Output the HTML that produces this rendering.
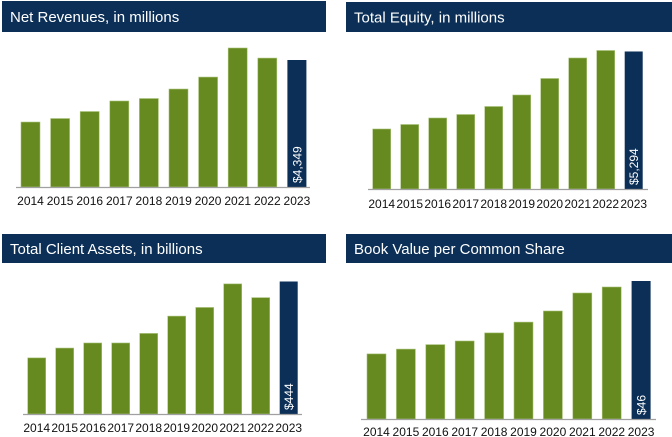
<!DOCTYPE html>
<html><head><meta charset="utf-8"><style>
body{margin:0;background:#fff;width:672px;height:437px;overflow:hidden;font-family:"Liberation Sans",sans-serif}
svg{display:block}
</style></head><body>
<svg id="c" width="672" height="437"></svg>
<script>
const years = ["2014","2015","2016","2017","2018","2019","2020","2021","2022","2023"];
const netRevenues = [2225,2345,2585,2945,3030,3355,3765,4760,4415,4349];
const totalEquity = [2310,2483,2734,2868,3176,3619,4254,5044,5332,5294];
const clientAssets = [188,221,238,238,270,328,357,436,390,444];
const bookValue = [21.7,23.3,24.8,26,28.7,32.3,36,42,44,46];
const titles = ["Net Revenues, in millions","Total Equity, in millions","Total Client Assets, in billions","Book Value per Common Share"];
const labels = ["$4,349","$5,294","$444","$46"];
const names = ["net-revenues","total-equity","client-assets","book-value"];
const series = [netRevenues,totalEquity,clientAssets,bookValue];
const layouts = [
 {hx:2,hy:1,hw:324,hh:31,base:187,x0:21,pitch:29.6,bw:19,top:48,ax0:16,ax1:310,ly:205},
 {hx:346,hy:2,hw:326,hh:30,base:189,x0:372.7,pitch:28,bw:18,top:50.5,ax0:368,ax1:648,ly:208},
 {hx:2,hy:234,hw:324,hh:29,base:414,x0:27.7,pitch:28,bw:18,top:281.5,ax0:23,ax1:302,ly:432},
 {hx:346,hy:234,hw:326,hh:29,base:419,x0:367,pitch:29.4,bw:19,top:281,ax0:361,ax1:656,ly:436}
];
const NS="http://www.w3.org/2000/svg";
const svg=document.getElementById('c');
function mk(t,a,p){const e=document.createElementNS(NS,t);for(const k in a)e.setAttribute(k,a[k]);(p||svg).appendChild(e);return e;}
series.forEach((data,i)=>{
 const L=layouts[i];
 const g=mk('g',{});
 
 
 const h=mk('rect',{x:L.hx,y:L.hy,width:L.hw,height:L.hh,fill:'#0b2f57'},g);
 
 
 const t=mk('text',{x:L.hx+8,y:L.hy+L.hh/2+5.5,fill:'#fff','font-size':'15'},g);
 t.textContent=titles[i];
 
 
 const max=Math.max(...data);
 const ys=v=>L.base-(v/max)*(L.base-L.top);
 data.forEach((v,j)=>{
  const x=L.x0+j*L.pitch;
  const last=j===data.length-1;
  const r=mk('rect',{x:x,y:ys(v),width:L.bw,height:L.base-ys(v),fill:last?'#0b2f57':'#668a1f',stroke:last?'none':'#a9c27a','stroke-width':0.6},g);
  
  
  const lb=mk('text',{x:x+L.bw/2,y:L.ly,'text-anchor':'middle','font-size':'12',fill:'#111'},g);
  lb.textContent=years[j];
  
  
  if(last){
   const cx=x+L.bw/2+4.5, cy=L.base-4;
   const vl=mk('text',{x:cx,y:cy,transform:`rotate(-90 ${cx} ${cy})`,'font-size':'12',fill:'#fff'},g);
   vl.textContent=labels[i];
   
   
  }
 });
 const ax=mk('line',{x1:L.ax0,x2:L.ax1,y1:L.base+0.5,y2:L.base+0.5,stroke:'#a0a0a0','stroke-width':1.2},g);
 
 
});
</script>
</body></html>
